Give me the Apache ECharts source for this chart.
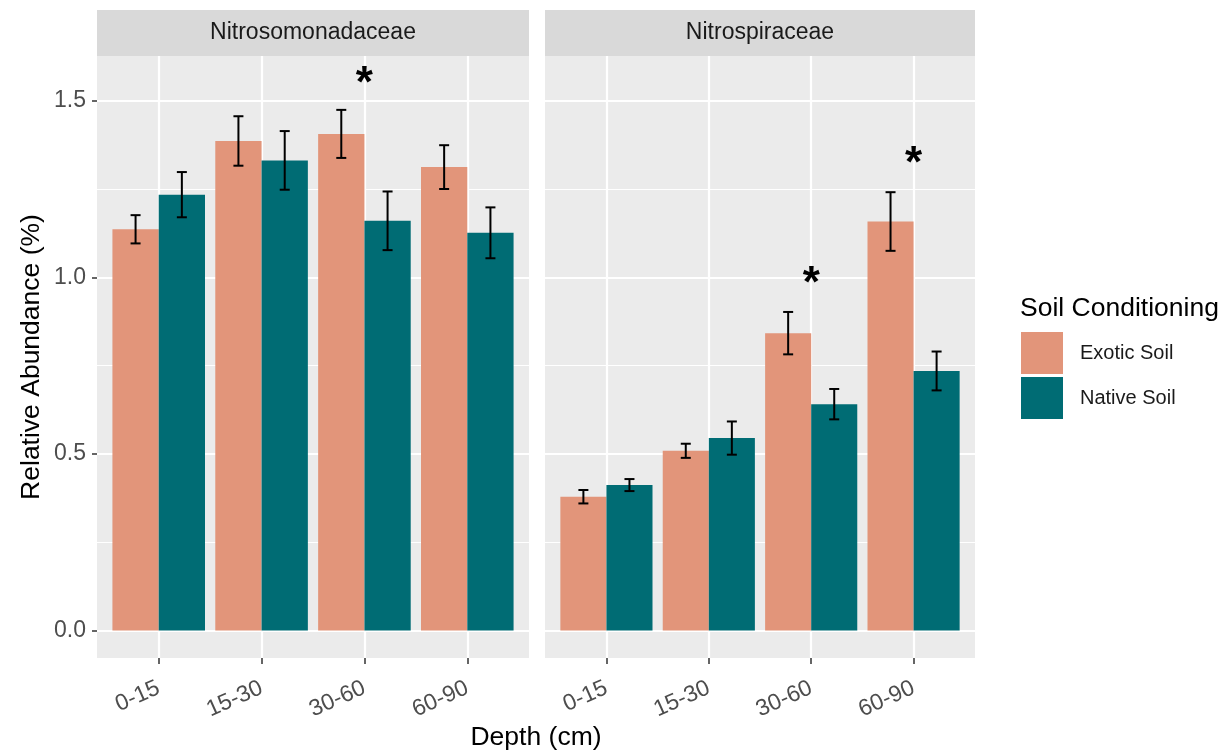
<!DOCTYPE html>
<html>
<head>
<meta charset="utf-8">
<script src="https://cdn.jsdelivr.net/npm/echarts@6/dist/echarts.min.js"></script>
<style>
html,body{margin:0;padding:0;background:#fff;}
#chart{width:1230px;height:754px;}
</style>
</head>
<body>
<div id="chart"></div>
<script>
// ---- data ----
const depths = ['0-15', '15-30', '30-60', '60-90'];
const families = ['Nitrosomonadaceae', 'Nitrospiraceae'];
const groups = ['Exotic Soil', 'Native Soil'];

const nitrosoExotic   = [1.136, 1.386, 1.406, 1.312];
const nitrosoExoticSE = [0.040, 0.070, 0.068, 0.062];
const nitrosoNative   = [1.234, 1.331, 1.160, 1.126];
const nitrosoNativeSE = [0.064, 0.083, 0.083, 0.072];

const nitrospExotic   = [0.379, 0.509, 0.842, 1.158];
const nitrospExoticSE = [0.019, 0.020, 0.060, 0.083];
const nitrospNative   = [0.412, 0.545, 0.641, 0.735];
const nitrospNativeSE = [0.017, 0.047, 0.043, 0.055];

// significance marks: [depth index, y value]
const sigNitroso = [[2, 1.568]];
const sigNitrosp = [[2, 1.002], [3, 1.342]];

const yMajor = [0, 0.5, 1.0, 1.5];
const yMinor = [0.25, 0.75, 1.25];

// ---- styling ----
const FONT = 'Liberation Sans, Arial, Helvetica, sans-serif';
const COL_EXOTIC = '#E2957A';
const COL_NATIVE = '#006C74';
const Y_MIN = -0.0775, Y_MAX = 1.6265;
const DODGE = 0.225;

const chart = echarts.init(document.getElementById('chart'), null, {renderer: 'canvas'});

const xPositions = depths.map((d, i) => i + 1);

function xAxisDef(gridIndex) {
  return {
    type: 'value', gridIndex, min: 0.4, max: 4.6, position: 'bottom',
    axisLine: {show: false, onZero: false},
    axisTick: {show: true, customValues: xPositions, length: 6, lineStyle: {color: '#333333', width: 1.5}},
    axisLabel: {
      show: true, customValues: xPositions, rotate: 24, margin: 29,
      fontSize: 23, color: '#4D4D4D', fontFamily: FONT,
      formatter: v => depths[Math.round(v) - 1]
    },
    splitLine: {show: true, lineStyle: {color: '#FFFFFF', width: 2.2}}
  };
}
function yMajorDef(gridIndex, showLabels) {
  return {
    type: 'value', gridIndex, min: Y_MIN, max: Y_MAX, position: 'left',
    axisLine: {show: false, onZero: false},
    axisTick: {show: showLabels, customValues: yMajor, length: 5, lineStyle: {color: '#333333', width: 1.5}},
    axisLabel: {show: showLabels, customValues: yMajor, margin: 11, fontSize: 23, color: '#4D4D4D', fontFamily: FONT,
      formatter: v => v.toFixed(1)},
    splitLine: {show: true, lineStyle: {color: '#FFFFFF', width: 2.2}},
    name: showLabels ? 'Relative Abundance (%)' : '',
    nameLocation: 'middle', nameRotate: 90, nameGap: 52,
    nameTextStyle: {fontSize: 26.5, color: '#000000', fontFamily: FONT}
  };
}
function yMinorDef(gridIndex) {
  return {
    type: 'value', gridIndex, min: Y_MIN, max: Y_MAX, position: 'right',
    axisLine: {show: false, onZero: false},
    axisTick: {show: false, customValues: yMinor},
    axisLabel: {show: false, customValues: yMinor},
    splitLine: {show: true, lineStyle: {color: '#FFFFFF', width: 1.1}}
  };
}

function barSeries(name, vals, color, xi, yi) {
  return {
    type: 'bar', name, xAxisIndex: xi, yAxisIndex: yi,
    data: vals.map((v, i) => [i + 1, v]),
    barWidth: '45%', barGap: '0%',
    itemStyle: {color},
    z: 2, silent: true
  };
}
function errSeries(vals, se, offset, xi, yi) {
  return {
    type: 'custom', xAxisIndex: xi, yAxisIndex: yi, z: 5, silent: true,
    encode: {x: 0, y: [1, 2]},
    data: vals.map((v, i) => [i + 1, v - se[i], v + se[i]]),
    renderItem: (params, api) => {
      const x = api.value(0) + offset;
      const lo = api.coord([x, api.value(1)]);
      const hi = api.coord([x, api.value(2)]);
      const cap = 5;
      const st = {stroke: '#000000', lineWidth: 2};
      return {type: 'group', children: [
        {type: 'line', shape: {x1: lo[0], y1: lo[1], x2: hi[0], y2: hi[1]}, style: st},
        {type: 'line', shape: {x1: hi[0] - cap, y1: hi[1], x2: hi[0] + cap, y2: hi[1]}, style: st},
        {type: 'line', shape: {x1: lo[0] - cap, y1: lo[1], x2: lo[0] + cap, y2: lo[1]}, style: st}
      ]};
    }
  };
}
function sigSeries(marks, xi, yi) {
  const fs = 44;
  return {
    type: 'custom', xAxisIndex: xi, yAxisIndex: yi, z: 6, silent: true,
    encode: {x: 0, y: 1},
    data: marks.map(m => [m[0] + 1, m[1]]),
    renderItem: (params, api) => {
      const p = api.coord([api.value(0), api.value(1)]);
      return {type: 'text', x: p[0], y: p[1] + fs * 0.18,
        style: {text: '*', fontSize: fs, fontFamily: FONT, fontWeight: 'bold', fill: '#000000',
          align: 'center', verticalAlign: 'middle'}};
    }
  };
}

const panels = [
  {left: 97, width: 432},
  {left: 545, width: 430}
];
const TOP = 56, HEIGHT = 602, STRIP_H = 46;

const option = {
  backgroundColor: '#FFFFFF',
  animation: false,
  grid: panels.map(p => ({
    left: p.left, width: p.width, top: TOP, height: HEIGHT,
    show: true, backgroundColor: '#EBEBEB', borderWidth: 0,
    containLabel: false, outerBoundsMode: 'none'
  })),
  xAxis: [xAxisDef(0), xAxisDef(1)],
  yAxis: [yMajorDef(0, true), yMinorDef(0), yMajorDef(1, false), yMinorDef(1)],
  legend: {
    orient: 'vertical', left: 1021, top: 332, padding: 0,
    itemWidth: 42, itemHeight: 42, itemGap: 3, icon: 'rect',
    data: groups,
    selectedMode: false,
    textStyle: {fontSize: 20, color: '#1A1A1A', fontFamily: FONT, padding: [0, 0, 0, 12]}
  },
  graphic: [
    ...panels.map((p, i) => ({
      type: 'group', left: p.left, top: TOP - STRIP_H, silent: true,
      children: [
        {type: 'rect', shape: {x: 0, y: 0, width: p.width, height: STRIP_H}, style: {fill: '#D9D9D9'}},
        {type: 'text', x: p.width / 2, y: STRIP_H / 2,
          style: {text: families[i], fontSize: 23, fontFamily: FONT, fill: '#1A1A1A', align: 'center', verticalAlign: 'middle'}}
      ]
    })),
    {type: 'text', x: 536, y: 738, silent: true,
      style: {text: 'Depth (cm)', fontSize: 26.5, fontFamily: FONT, fill: '#000000', align: 'center', verticalAlign: 'middle'}},
    {type: 'text', left: 1020, top: 295, silent: true,
      style: {text: 'Soil Conditioning', fontSize: 26.5, fontFamily: FONT, fill: '#000000'}}
  ],
  series: [
    barSeries(groups[0], nitrosoExotic, COL_EXOTIC, 0, 0),
    barSeries(groups[1], nitrosoNative, COL_NATIVE, 0, 0),
    barSeries(groups[0], nitrospExotic, COL_EXOTIC, 1, 2),
    barSeries(groups[1], nitrospNative, COL_NATIVE, 1, 2),
    errSeries(nitrosoExotic, nitrosoExoticSE, -DODGE, 0, 0),
    errSeries(nitrosoNative, nitrosoNativeSE, DODGE, 0, 0),
    errSeries(nitrospExotic, nitrospExoticSE, -DODGE, 1, 2),
    errSeries(nitrospNative, nitrospNativeSE, DODGE, 1, 2),
    sigSeries(sigNitroso, 0, 0),
    sigSeries(sigNitrosp, 1, 2)
  ]
};
chart.setOption(option);
</script>
</body>
</html>
